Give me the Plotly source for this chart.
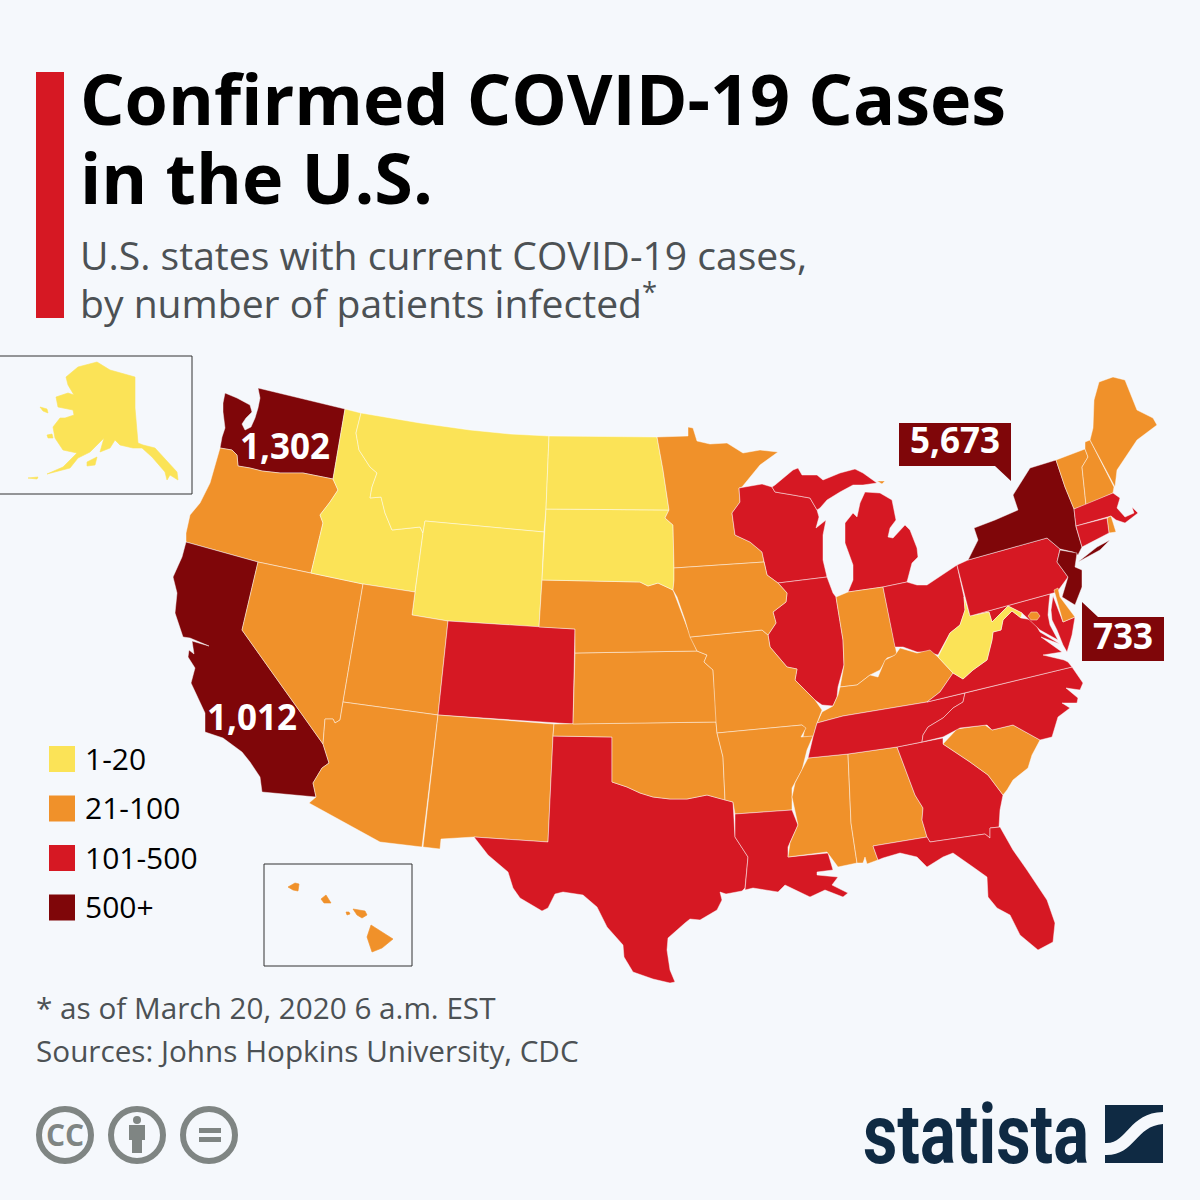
import plotly.graph_objects as go

# state outlines (the usa topojson needs the network)
WA = [(258,388),(345,409),(333,479),(303,473),(280,473),(262,471),(250,468),(238,466),(237,455),(232,450),(220,448),(222,437),(225,428),(223,412),(223,403),(225,393),(237,398),(250,405),(252,412),(246,418),(242,424),(245,430),(251,427),(255,418),(258,408),(260,398)]
OR = [(220,448),(232,450),(237,455),(238,466),(250,468),(262,471),(280,473),(303,473),(333,479),(338,490),(330,502),(320,515),(323,523),(311,573),(258,562),(186,542),(186,533),(190,515),(200,503),(210,483)]
CA = [(186,542),(258,562),(242,630),(323,744),(329,763),(322,768),(313,783),(316,797),(262,792),(260,777),(250,762),(242,752),(223,738),(205,732),(205,713),(197,695),(191,683),(195,668),(188,657),(189,650),(194,654),(192,641),(209,646),(190,638),(183,637),(175,613),(177,593),(173,577),(182,557)]
NV = [(258,562),(363,584),(343,702),(340,720),(335,723),(333,719),(325,719),(323,744),(242,630)]
ID = [(345,409),(361,413),(356,433),(359,450),(370,467),(377,473),(372,487),(370,498),(381,497),(385,513),(392,530),(420,527),(423,533),(415,592),(363,584),(311,573),(323,523),(320,515),(330,502),(338,490),(333,479)]
MT = [(361,413),(420,423),(470,430),(510,434),(549,436),(546,509),(544,532),(425,521),(423,533),(420,527),(392,530),(385,513),(381,497),(370,498),(372,487),(377,473),(370,467),(359,450),(356,433)]
WY = [(425,521),(544,532),(542,580),(539,627),(448,621),(412,615),(423,533)]
UT = [(363,584),(415,592),(412,615),(448,621),(438,715),(343,702)]
CO = [(448,621),(539,627),(575,629),(573,724),(438,715)]
AZ = [(343,702),(438,715),(422,847),(380,842),(309,803),(316,797),(313,783),(322,768),(329,763),(323,744),(325,719),(333,719),(335,723),(340,720)]
NM = [(438,715),(554,724),(553,736),(548,842),(474,837),(441,839),(440,849),(423,847)]
TX = [(553,736),(612,737),(612,782),(627,787),(640,793),(653,797),(670,799),(687,799),(707,795),(725,800),(733,802),(735,837),(748,857),(745,888),(742,891),(726,894),(720,892),(722,900),(717,910),(700,920),(690,919),(685,923),(673,933),(668,938),(667,950),(670,970),(675,982),(670,983),(653,979),(633,972),(624,957),(623,945),(607,927),(597,907),(583,895),(563,892),(555,894),(548,908),(542,911),(520,898),(513,888),(508,872),(488,855),(474,837),(548,842)]
OK = [(554,724),(716,722),(717,733),(723,757),(725,800),(707,795),(687,799),(670,799),(653,797),(640,793),(627,787),(612,782),(612,737),(553,736)]
KS = [(575,653),(697,651),(707,655),(704,662),(713,670),(717,722),(573,724)]
NE = [(542,580),(640,582),(648,586),(658,583),(673,590),(687,627),(697,651),(575,653),(575,629),(539,627)]
SD = [(546,509),(669,510),(665,518),(673,525),(674,568),(674,580),(673,590),(658,583),(648,586),(640,582),(542,580)]
ND = [(549,436),(657,437),(663,470),(669,510),(546,509)]
MN = [(657,437),(688,436),(688,427),(693,428),(697,441),(710,444),(727,443),(743,453),(760,450),(778,452),(760,465),(742,487),(739,488),(740,502),(732,513),(735,535),(750,542),(762,552),(764,562),(674,568),(673,525),(665,518),(669,510),(663,470)]
MN_ISLE = [(877,481),(885,481),(882,484)]
WI = [(739,488),(762,484),(772,487),(775,492),(793,495),(810,498),(817,510),(819,517),(816,528),(826,520),(823,535),(823,560),(827,577),(778,583),(767,575),(764,562),(762,552),(750,542),(735,535),(732,513),(740,502)]
MI_UP = [(772,487),(775,485),(793,470),(798,468),(802,475),(817,475),(823,480),(840,473),(855,469),(863,473),(877,483),(863,485),(853,485),(840,492),(827,500),(820,508),(817,510),(810,498),(793,495),(775,492)]
MI_LP = [(865,492),(880,493),(892,500),(896,520),(890,528),(888,537),(893,538),(905,525),(910,530),(917,548),(918,557),(912,563),(907,582),(883,587),(848,592),(853,580),(853,565),(845,543),(845,523),(853,513),(857,517),(860,503)]
IL = [(778,583),(827,577),(833,593),(836,597),(843,640),(844,665),(838,687),(837,697),(833,706),(822,705),(815,700),(805,690),(795,680),(797,669),(787,667),(770,647),(768,635),(776,623),(773,612),(786,602),(787,593)]
IN = [(836,597),(848,592),(883,587),(895,647),(897,655),(887,658),(880,670),(870,675),(857,685),(840,687),(844,665),(843,640)]
OH = [(883,587),(907,582),(917,585),(927,585),(957,565),(964,597),(965,610),(960,625),(950,633),(945,642),(938,655),(927,652),(917,652),(903,647),(895,647)]
KY = [(817,723),(822,712),(833,706),(838,695),(840,687),(857,685),(870,675),(878,677),(885,660),(895,655),(900,648),(917,653),(930,650),(938,657),(953,673),(940,692),(927,702),(843,716)]
MO = [(690,637),(762,630),(768,635),(770,647),(787,667),(797,669),(795,680),(815,700),(822,710),(817,723),(813,737),(803,737),(805,728),(802,725),(717,733),(716,722),(713,670),(704,662),(707,655),(697,651)]
IA = [(674,568),(764,562),(767,575),(778,583),(787,593),(786,602),(773,612),(776,623),(768,635),(762,630),(690,637),(685,620),(677,597),(673,590),(674,580)]
AR = [(717,733),(802,725),(806,728),(801,737),(813,736),(807,750),(802,770),(792,788),(792,810),(735,814),(733,802),(725,800),(723,757)]
LA = [(735,814),(792,810),(798,825),(788,847),(788,857),(828,853),(833,870),(817,872),(817,875),(838,877),(832,885),(848,893),(843,897),(825,890),(810,897),(800,892),(785,885),(778,892),(753,888),(745,890),(748,857),(735,837)]
MS = [(808,758),(848,754),(851,823),(857,863),(838,867),(827,852),(788,857),(790,843),(798,825),(792,797),(795,783),(805,763)]
AL = [(848,754),(897,747),(915,795),(923,808),(922,820),(927,837),(873,846),(878,860),(867,864),(865,857),(863,863),(857,863),(851,823)]
GA = [(897,747),(922,742),(943,738),(943,744),(970,762),(988,775),(1003,795),(1000,810),(999,827),(990,828),(990,838),(985,834),(930,842),(927,837),(922,820),(923,808),(915,795)]
SC = [(943,744),(957,729),(985,725),(992,730),(1013,725),(1040,740),(1032,755),(1028,768),(1013,780),(1007,790),(1003,795),(988,775),(970,762)]
FL = [(873,846),(927,837),(930,842),(985,834),(990,838),(990,828),(1000,827),(1013,850),(1027,870),(1047,900),(1055,923),(1053,942),(1038,950),(1020,935),(1010,915),(997,908),(988,897),(987,877),(973,867),(953,853),(943,857),(927,867),(917,857),(900,853),(883,858),(878,860)]
TN = [(965,693),(927,702),(843,716),(817,723),(813,737),(808,758),(848,754),(897,747),(922,742),(923,735),(928,727),(943,718),(953,708),(963,702)]
NC = [(1072,667),(1083,683),(1080,690),(1066,688),(1078,698),(1077,703),(1062,703),(1070,708),(1058,717),(1052,737),(1040,740),(1013,725),(992,730),(987,725),(960,728),(943,737),(922,742),(923,735),(928,727),(943,718),(953,708),(963,702),(965,693)]
VA = [(1033,620),(1040,632),(1060,644),(1041,637),(1062,652),(1043,655),(1064,660),(1068,662),(1072,667),(965,693),(927,702),(940,692),(953,673),(963,679),(973,670),(987,660),(992,640),(993,632),(1001,630),(1003,620),(1012,611),(1021,618)]
MD = [(970,616),(1050,594),(1049,603),(1048,615),(1050,625),(1058,640),(1040,630),(1032,622),(1022,613),(1008,606),(992,622),(989,612)]
MD_SHORE = [(1053,596),(1063,622),(1075,617),(1072,635),(1067,652),(1063,645),(1057,630),(1052,620),(1051,610)]
DC = [(1031,612),(1037,612),(1040,616),(1037,620),(1031,620),(1028,616)]
WV = [(964,597),(970,616),(989,612),(992,622),(1008,606),(1022,613),(1021,618),(1012,611),(1003,620),(1001,630),(993,632),(992,640),(987,660),(973,670),(963,679),(953,673),(938,657),(945,642),(950,633),(960,625),(965,610)]
PA = [(957,565),(968,560),(1047,538),(1060,549),(1057,562),(1068,577),(1057,592),(970,616)]
NY = [(968,560),(978,540),(974,528),(995,520),(1018,510),(1013,495),(1030,468),(1056,460),(1065,487),(1074,509),(1076,527),(1082,547),(1078,555),(1073,552),(1060,549),(1047,538)]
NY_LI = [(1078,562),(1097,547),(1110,540),(1100,550)]
NJ = [(1060,550),(1077,553),(1075,567),(1082,570),(1082,587),(1075,605),(1062,597),(1068,577),(1057,562)]
VT = [(1056,460),(1085,449),(1088,457),(1082,467),(1086,505),(1074,509),(1065,487)]
NH = [(1085,442),(1090,440),(1114,487),(1113,493),(1086,505),(1082,467),(1088,457),(1085,449)]
ME = [(1090,440),(1093,428),(1094,400),(1099,382),(1113,377),(1125,380),(1137,410),(1153,418),(1157,425),(1137,440),(1125,458),(1117,470),(1115,487)]
MA = [(1074,509),(1113,493),(1120,498),(1117,508),(1125,517),(1134,513),(1132,507),(1138,513),(1125,523),(1116,520),(1111,516),(1076,526)]
RI = [(1107,518),(1111,516),(1116,532),(1109,533)]
CT = [(1076,526),(1107,518),(1109,533),(1082,547)]
DE = [(1054,590),(1058,588),(1060,597),(1075,617),(1063,622)]
AK = [(97,362),(110,370),(135,377),(135,408),(138,443),(143,445),(155,448),(177,472),(178,480),(170,475),(167,480),(165,472),(152,457),(142,448),(133,448),(120,445),(115,440),(110,448),(100,452),(104,438),(90,452),(78,458),(70,468),(47,474),(63,467),(77,453),(63,450),(55,438),(53,427),(60,418),(65,418),(74,415),(73,410),(58,407),(56,397),(68,393),(74,395),(68,385),(66,377),(78,367)]
AK_NUNIVAK = [(40,407),(47,409),(48,413),(43,411)]
AK_STLAWRENCE = [(47,435),(52,434),(53,438),(48,438)]
AK_KODIAK = [(87,462),(97,457),(95,465),(87,466)]
AK_ALEUT = [(28,478),(38,477),(37,479)]
HI_KAUAI = [(288,887),(295,883),(299,884),(298,891),(293,890)]
HI_OAHU = [(321,899),(326,895),(331,903),(324,903)]
HI_MOLOKAI = [(353,909),(365,911),(367,915),(362,918),(357,915)]
HI_LANAI = [(346,912),(349,912),(350,914),(347,915)]
HI_BIG = [(371,925),(393,939),(382,948),(372,952),(369,943),(367,937)]

# name, outline, case bin (0: 1-20, 1: 21-100, 2: 101-500, 3: 500+)
state_names = ["WA","OR","CA","NV","ID","MT","WY","UT","CO","AZ","NM","TX","OK","KS","NE","SD","ND","MN","MN","WI","MI","MI","IL","IN","OH","KY","MO","IA","AR","LA","MS","AL","GA","SC","FL","TN","NC","VA","MD","MD","DC","WV","PA","NY","NY","NJ","VT","NH","ME","MA","RI","CT","DE","AK","AK","AK","AK","AK","HI","HI","HI","HI","HI"]
state_shapes = [WA,OR,CA,NV,ID,MT,WY,UT,CO,AZ,NM,TX,OK,KS,NE,SD,ND,MN,MN_ISLE,WI,MI_UP,MI_LP,IL,IN,OH,KY,MO,IA,AR,LA,MS,AL,GA,SC,FL,TN,NC,VA,MD,MD_SHORE,DC,WV,PA,NY,NY_LI,NJ,VT,NH,ME,MA,RI,CT,DE,AK,AK_NUNIVAK,AK_STLAWRENCE,AK_KODIAK,AK_ALEUT,HI_KAUAI,HI_OAHU,HI_MOLOKAI,HI_LANAI,HI_BIG]
state_bins = [3,1,3,1,0,0,0,1,2,1,1,2,1,1,1,0,0,1,1,2,2,2,2,1,2,1,1,1,1,2,1,1,2,1,2,2,2,2,2,2,1,0,2,3,3,3,1,1,1,2,1,2,1,0,0,0,0,0,1,1,1,1,1]

legend_labels = ["1-20", "21-100", "101-500", "500+"]
bin_colors = ["#fbe357", "#f0912a", "#d61823", "#7f0609"]
BG = "#f5f8fc"
FONT = "Open Sans"

fig = go.Figure()
for name, shape, b in zip(state_names, state_shapes, state_bins):
    inset = name in ("AK", "HI")
    fig.add_trace(go.Scatter(
        x=[p[0] for p in shape] + [shape[0][0]],
        y=[p[1] for p in shape] + [shape[0][1]],
        mode="lines", fill="toself", fillcolor=bin_colors[b],
        line=dict(color=bin_colors[b] if inset else "rgba(255,255,255,0.75)", width=0.6),
        name=name, hoverinfo="name", showlegend=False,
    ))


def text(x, y, s, size, color="#000000", bold=False, anchor="left", family=FONT):
    fig.add_annotation(x=x, y=y, text="<b>%s</b>" % s if bold else s, showarrow=False,
                       xanchor=anchor, yanchor="middle", align=anchor,
                       font=dict(family=family, size=size, color=color))


shapes = [
    dict(type="rect", x0=36, x1=64, y0=72, y1=318, fillcolor="#d61823", line_width=0),
    dict(type="rect", x0=-3, x1=192, y0=356, y1=494, line=dict(color="#333333", width=1)),
    dict(type="rect", x0=264, x1=412, y0=864, y1=966, line=dict(color="#333333", width=1)),
    # callouts
    dict(type="path", path="M899,423 L1011,423 L1011,481 L995,466 L899,466 Z", fillcolor="#7f0609", line_width=0),
    dict(type="path", path="M1082,602 L1098,617 L1164,617 L1164,661 L1082,661 Z", fillcolor="#7f0609", line_width=0),
    # cc icons
    dict(type="circle", x0=39, x1=91, y0=1109, y1=1161, line=dict(color="#7f8583", width=6)),
    dict(type="circle", x0=111, x1=163, y0=1109, y1=1161, line=dict(color="#7f8583", width=6)),
    dict(type="circle", x0=183, x1=235, y0=1109, y1=1161, line=dict(color="#7f8583", width=6)),
    dict(type="circle", x0=133, x1=141, y0=1116, y1=1124, fillcolor="#7f8583", line_width=0),
    dict(type="path", path="M129,1125 L145,1125 L145,1140 L142,1140 L142,1153 L132,1153 L132,1140 L129,1140 Z", fillcolor="#7f8583", line_width=0),
    dict(type="rect", x0=199, x1=221, y0=1128, y1=1133, fillcolor="#7f8583", line_width=0),
    dict(type="rect", x0=199, x1=221, y0=1137, y1=1142, fillcolor="#7f8583", line_width=0),
    # statista mark
    dict(type="rect", x0=1105, x1=1163, y0=1105, y1=1163, fillcolor="#0f2a43", line_width=0),
    dict(type="path", path="M1105,1143 C1127,1145 1128,1113 1163,1112 L1163,1124 C1135,1126 1135,1156 1105,1155 Z", fillcolor=BG, line_width=0),
]
for i, c in enumerate(bin_colors):
    top = 746 + i * 49.5
    shapes.append(dict(type="rect", x0=49, x1=75, y0=top, y1=top + 26, fillcolor=c, line_width=0))
    text(83, top + 12, legend_labels[i], 30)

text(78, 98, "Confirmed COVID-19 Cases", 70, bold=True)
text(78, 177, "in the U.S.", 70, bold=True)
text(78, 254, "U.S. states with current COVID-19 cases,", 39.1, color="#4c5154")
text(78, 301, "by number of patients infected<sup>*</sup>", 39.1, color="#4c5154")

text(285, 445, "1,302", 35, color="#ffffff", bold=True, anchor="center")
text(252, 716, "1,012", 35, color="#ffffff", bold=True, anchor="center")
text(955, 439, "5,673", 35, color="#ffffff", bold=True, anchor="center")
text(1123, 635, "733", 35, color="#ffffff", bold=True, anchor="center")

text(34, 1007, "* as of March 20, 2020 6 a.m. EST", 29.7, color="#4c5154")
text(34, 1050, "Sources: Johns Hopkins University, CDC", 29.7, color="#4c5154")
text(65, 1134, "CC", 30, color="#7f8583", bold=True, anchor="center")
text(861, 1134, "statista", 84, color="#0f2a43", bold=True, family="Roboto")

fig.update_layout(
    width=1200, height=1200, margin=dict(l=0, r=0, t=0, b=0),
    paper_bgcolor=BG, plot_bgcolor=BG, showlegend=False, shapes=shapes,
    xaxis=dict(range=[0, 1200], visible=False, fixedrange=True),
    yaxis=dict(range=[1200, 0], visible=False, fixedrange=True),
)

# no narrow sans installed, so squeeze the wordmark to its width in the picture
squeeze = """
document.body.style.margin='0';
document.querySelectorAll('.annotation-text').forEach(function (t) {
  if (t.textContent !== 'statista') return;
  var b = t.getBBox(), s = 226 / b.width;
  t.setAttribute('transform', 'translate(' + b.x + ',0) scale(' + s + ',1) translate(' + (-b.x) + ',0)');
});
"""
fig.write_html("out.html", config={"displayModeBar": False}, post_script=squeeze)
